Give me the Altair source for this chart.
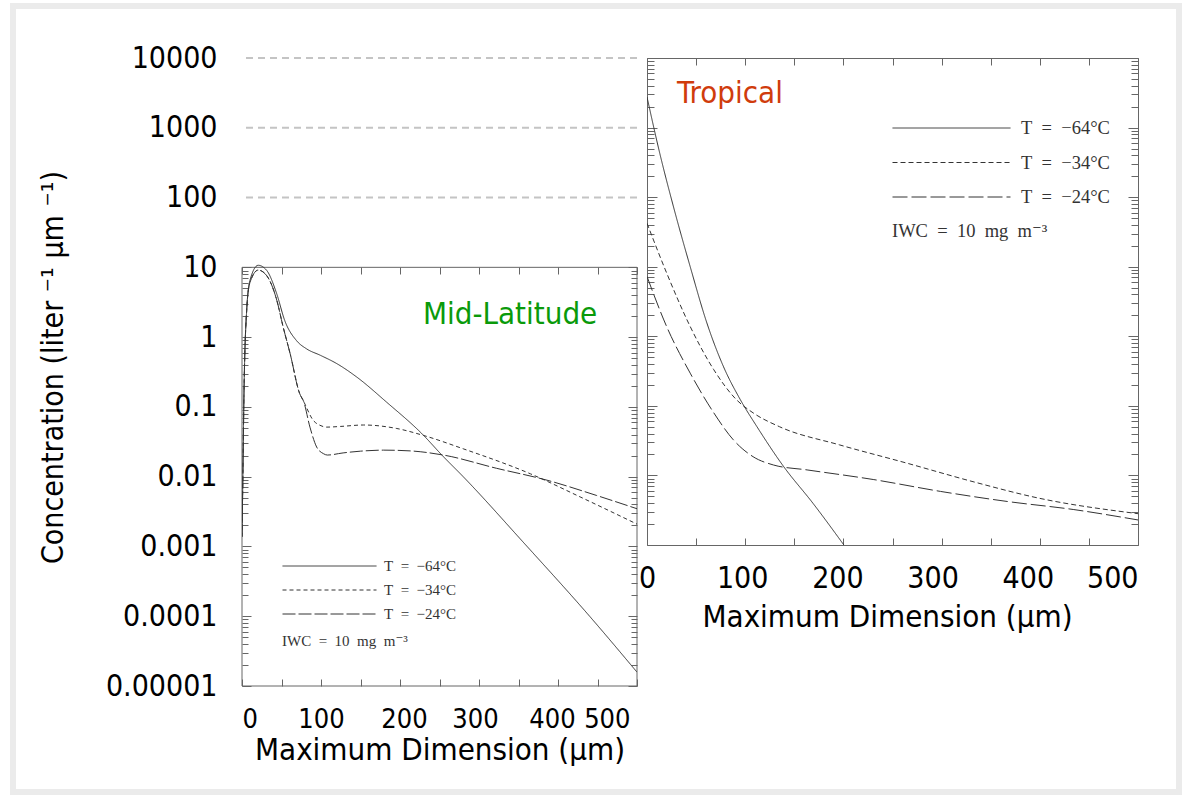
import altair as alt
import pandas as pd

# ---------------- data ----------------
series_names = ["T\u2002=\u2002\u221264°C", "T\u2002=\u2002\u221234°C", "T\u2002=\u2002\u221224°C"]

# Mid-Latitude panel (Maximum dimension in um, concentration per liter per um)
mid_d_64 = [0, 0.8, 2.5, 5.9, 10, 20.5, 31, 44, 54, 69, 82, 99, 120, 145, 183, 230, 253, 280, 356, 440, 500]
mid_c_64 = [0.00138, 0.00575, 0.155, 2.4, 6.46, 10.7, 9.12, 4.17, 1.74, 0.891, 0.676, 0.55, 0.417, 0.269,
            0.117, 0.0389, 0.0204, 0.01, 0.00115, 0.0001, 0.0000158]

mid_d_34 = [0, 0.8, 2.5, 5.9, 10, 20.5, 31, 44, 52, 61, 73, 78, 90, 100, 107, 125, 154, 196, 230, 280, 365, 428, 500]
mid_c_34 = [0.00138, 0.00575, 0.155, 2.4, 6.03, 9.12, 7.67, 3.39, 1.41, 0.575, 0.155, 0.12, 0.0646, 0.0537,
            0.0513, 0.0525, 0.055, 0.049, 0.0389, 0.0251, 0.011, 0.00513, 0.00209]

mid_d_24 = [0, 0.8, 2.5, 5.9, 10, 20.5, 31, 44, 52, 61, 73, 78, 86, 94.5, 103, 108, 128, 150, 179, 213, 255,
            322, 386, 449, 500]
mid_c_24 = [0.00138, 0.00575, 0.155, 2.4, 6.03, 9.12, 7.67, 3.39, 1.41, 0.575, 0.155, 0.12, 0.0513, 0.0266,
            0.0214, 0.0204, 0.0219, 0.0232, 0.024, 0.0234, 0.0204, 0.0132, 0.00891, 0.00537, 0.00347]

# Tropical panel
trop_d_64 = [0, 13, 27, 44, 61, 78, 95, 112, 139, 169, 200.5]
trop_c_64 = [2754, 427, 72.4, 10, 1.55, 0.363, 0.123, 0.0501, 0.0135, 0.00398, 0.001]

trop_d_34 = [0, 20, 44, 68, 91, 108, 135, 196, 264, 332, 400, 500]
trop_c_34 = [42.2, 8.13, 1.38, 0.331, 0.123, 0.0794, 0.0501, 0.0275, 0.0151, 0.00813, 0.00468, 0.00282]

trop_d_24 = [0, 20, 44, 68, 88, 108, 129, 163, 231, 299, 367, 434, 500]
trop_c_24 = [7.24, 1.38, 0.295, 0.0794, 0.0324, 0.0186, 0.0141, 0.012, 0.00871, 0.00589, 0.00422, 0.00324,
             0.00229]

# axis labels / ticks
x_label_values = [0, 100, 200, 300, 400, 500]
x_tick_values = [0, 50, 100, 150, 200, 250, 300, 350, 400, 450, 500]
y_label_values = [0.00001, 0.0001, 0.001, 0.01, 0.1, 1, 10, 100, 1000, 10000]
grid_values = [100, 1000, 10000]
mid_box_x = [0, 500]
mid_box_y = [0.00001, 10]
mid_y_ticks = [m * 10.0 ** e for e in range(-5, 1) for m in range(1, 10)] + [10]
trop_y_ticks = [m * 10.0 ** e for e in range(-3, 4) for m in range(1, 10)] + [10000]

mid_title = ["Mid-Latitude"]
trop_title = ["Tropical"]
legend_note = "IWC\u2002=\u200210\u2002mg\u2002m\u207b\u00b3"
x_title = "Maximum Dimension (µm)"
y_title = "Concentration (liter \u207b\u00b9 µm \u207b\u00b9)"


def make_df(ds, cs):
    rows = []
    for name, d, c in zip(series_names, ds, cs):
        for a, b in zip(d, c):
            rows.append({"D": a, "C": b, "series": name})
    return pd.DataFrame(rows)


df_mid = make_df([mid_d_64, mid_d_34, mid_d_24], [mid_c_64, mid_c_34, mid_c_24])
df_trop = make_df([trop_d_64, trop_d_34, trop_d_24], [trop_c_64, trop_c_34, trop_c_24])

# ---------------- styling ----------------
SANS = "'DejaVu Sans Condensed', 'DejaVu Sans', sans-serif"
SERIF = "'Liberation Serif', 'DejaVu Serif', serif"
FRAME = "#666666"
LINE = "#333333"
W_MID, H_MID = 395, 419
H_SPACER = 209
H_LEFT = H_SPACER + H_MID
W_TROP, H_TROP = 491, 487

major_test = "abs(log(datum.value)/LN10 - round(log(datum.value)/LN10)) < 0.001"


def tick_axis(orient, offset, values, major, minor):
    return alt.Axis(orient=orient, offset=offset, values=values, labels=False, domain=False, grid=False,
                    ticks=True, tickColor=FRAME, tickWidth=1,
                    tickSize={"condition": {"test": major_test, "value": major}, "value": minor},
                    title=None)


def x_label_axis(pad, size, title_y, aligns, shifts, title_x=None):
    kw = dict(orient="bottom", values=x_label_values, format="d", ticks=False, tickSize=0, domain=False,
              grid=False, labelOverlap=False, labelPadding=pad, labelFont=SANS, labelFontSize=size,
              labelColor="#000000", title=x_title, titleFont=SANS, titleFontSize=31,
              titleFontWeight="normal", titleColor="#000000", titleY=title_y, titleBaseline="top",
              labelAlign={"condition": [{"test": "datum.value == %d" % v, "value": a} for v, a in aligns],
                          "value": "center"},
              labelOffset={"condition": [{"test": "datum.value == %d" % v, "value": s} for v, s in shifts],
                           "value": 0})
    if title_x is not None:
        kw["titleX"] = title_x
    return alt.Axis(**kw)


def legend(x, y, length, clip_h, row_pad, size, offset, title_pad):
    return alt.Legend(orient="none", legendX=x, legendY=y, padding=0, symbolType="stroke",
                      symbolSize=length * length, symbolStrokeWidth=1, symbolStrokeColor=LINE,
                      clipHeight=clip_h, rowPadding=row_pad, labelFont=SERIF, labelFontSize=size,
                      labelColor="#333333", labelOffset=offset, title=legend_note, titleOrient="bottom",
                      titleAnchor="start", titleFont=SERIF, titleFontSize=size, titleFontWeight="normal",
                      titleColor="#333333", titlePadding=title_pad)


# ---------------- left column: shared y labels, guide lines, Mid-Latitude panel ----------------
xs_mid = alt.Scale(domain=[0, 500], nice=False, zero=False)
ys_left = alt.Scale(type="log", domain=[0.00001, 10000], nice=False)

page_frame = alt.Chart(pd.DataFrame({"k": [0]})).mark_rect(
    fillOpacity=0, stroke="#ebebeb", strokeWidth=6
).encode(x=alt.value(-229), x2=alt.value(937), y=alt.value(-52), y2=alt.value(734))

grid_rules = alt.Chart(pd.DataFrame({"v": grid_values})).mark_rule(
    color="#c4c4c4", strokeWidth=2, strokeDash=[7, 5]
).encode(y=alt.Y("v:Q", scale=ys_left, axis=None))

mid_box = alt.Chart(pd.DataFrame({"k": [0]})).mark_rect(
    fillOpacity=0, stroke=FRAME, strokeWidth=1
).encode(
    x=alt.XDatum(mid_box_x[0], type="quantitative", scale=xs_mid, axis=None),
    x2=alt.X2Datum(mid_box_x[1]),
    y=alt.YDatum(mid_box_y[0], type="quantitative", scale=ys_left, axis=None),
    y2=alt.Y2Datum(mid_box_y[1]),
)

base_mid = alt.Chart(df_mid)
mid_lines = base_mid.mark_line(interpolate="monotone", strokeWidth=1, color=LINE, clip=True).encode(
    x=alt.X("D:Q", scale=xs_mid,
            axis=x_label_axis(20, 27, 49, [(0, "left"), (500, "right")],
                              [(200, 4), (300, -4), (400, -6), (500, -7)])),
    y=alt.Y("C:Q", scale=ys_left,
            axis=alt.Axis(orient="left", values=y_label_values, format="~f", ticks=False, tickSize=0,
                          domain=False, grid=False, labelPadding=25, labelFont=SANS, labelFontSize=30,
                          labelColor="#000000", labelOverlap=False, title=y_title, titleFont=SANS,
                          titleFontSize=30, titleFontWeight="normal", titleColor="#000000",
                          titleAngle=270, titleBaseline="alphabetic", titleAlign="center",
                          titleX=-180, titleY=309)),
    strokeDash=alt.StrokeDash("series:N",
                              scale=alt.Scale(domain=series_names, range=[[1, 0], [4, 3], [13, 3]]),
                              legend=legend(40, 498, 94, 20, 4, 15, 7, 10)),
)
mid_ticks_a = base_mid.mark_point(opacity=0).encode(
    x=alt.X("D:Q", scale=xs_mid, axis=tick_axis("bottom", -H_MID, x_tick_values, 7, 7)),
    y=alt.Y("C:Q", scale=ys_left, axis=tick_axis("right", -W_MID, mid_y_ticks, 9, 6)),
)
mid_ticks_b = base_mid.mark_point(opacity=0).encode(
    x=alt.X("D:Q", scale=xs_mid, axis=tick_axis("top", -H_LEFT, x_tick_values, 7, 7)),
    y=alt.Y("C:Q", scale=ys_left, axis=tick_axis("left", -W_MID, mid_y_ticks, 9, 6)),
)
mid_text = alt.Chart(pd.DataFrame({"t": mid_title})).mark_text(
    align="left", baseline="alphabetic", font=SANS, fontSize=31, color="#0a9a0a"
).encode(
    x=alt.XDatum(229, type="quantitative", axis=None),
    y=alt.YDatum(1.56, type="quantitative", axis=None),
    text="t:N",
)
left = alt.layer(page_frame, grid_rules, mid_box, mid_lines, mid_ticks_a, mid_ticks_b, mid_text).resolve_axis(
    x="independent", y="independent"
).properties(width=W_MID, height=H_LEFT, view=alt.ViewBackground(strokeOpacity=0))

# ---------------- Tropical panel ----------------
xs_trop = alt.Scale(domain=[0, 500], nice=False, zero=False)
ys_trop = alt.Scale(type="log", domain=[0.001, 10000], nice=False)
base_trop = alt.Chart(df_trop)

trop_lines = base_trop.mark_line(interpolate="monotone", strokeWidth=1, color=LINE, clip=True).encode(
    x=alt.X("D:Q", scale=xs_trop,
            axis=x_label_axis(18, 30, 57, [(500, "right")],
                              [(100, -3), (200, -6), (300, -9), (400, -12)], title_x=240)),
    y=alt.Y("C:Q", scale=ys_trop, axis=tick_axis("right", -W_TROP, trop_y_ticks, 10, 7)),
    strokeDash=alt.StrokeDash("series:N",
                              scale=alt.Scale(domain=series_names, range=[[1, 0], [5, 3], [15, 4]]),
                              legend=legend(245, 58, 118, 24, 10.5, 18.5, 10, 12.5)),
)
trop_ticks_a = base_trop.mark_point(opacity=0).encode(
    x=alt.X("D:Q", scale=xs_trop, axis=tick_axis("top", -H_TROP, x_tick_values, 7, 7)),
    y=alt.Y("C:Q", scale=ys_trop, axis=tick_axis("left", -W_TROP, trop_y_ticks, 10, 7)),
)
trop_ticks_b = base_trop.mark_point(opacity=0).encode(
    x=alt.X("D:Q", scale=xs_trop, axis=tick_axis("bottom", -H_TROP, x_tick_values, 7, 7)),
    y=alt.Y("C:Q", scale=ys_trop, axis=None),
)
trop_text = alt.Chart(pd.DataFrame({"t": trop_title})).mark_text(
    align="left", baseline="alphabetic", font=SANS, fontSize=31, color="#d03c0c"
).encode(
    x=alt.XDatum(30.5, type="quantitative", axis=None),
    y=alt.YDatum(2234, type="quantitative", axis=None),
    text="t:N",
)
trop = alt.layer(trop_lines, trop_ticks_a, trop_ticks_b, trop_text).resolve_axis(
    x="independent", y="independent"
).properties(width=W_TROP, height=H_TROP, view=alt.ViewBackground(stroke=FRAME, strokeWidth=1))

# ---------------- assemble ----------------
chart = alt.hconcat(left, trop, spacing=10, bounds="flush").resolve_scale(
    x="independent", y="independent", strokeDash="independent"
).resolve_legend(strokeDash="independent").properties(
    padding={"left": 10, "top": 3, "right": 0, "bottom": 0}, background="#ffffff"
)

chart.save("out.html", embed_options={"renderer": "svg", "actions": False})
